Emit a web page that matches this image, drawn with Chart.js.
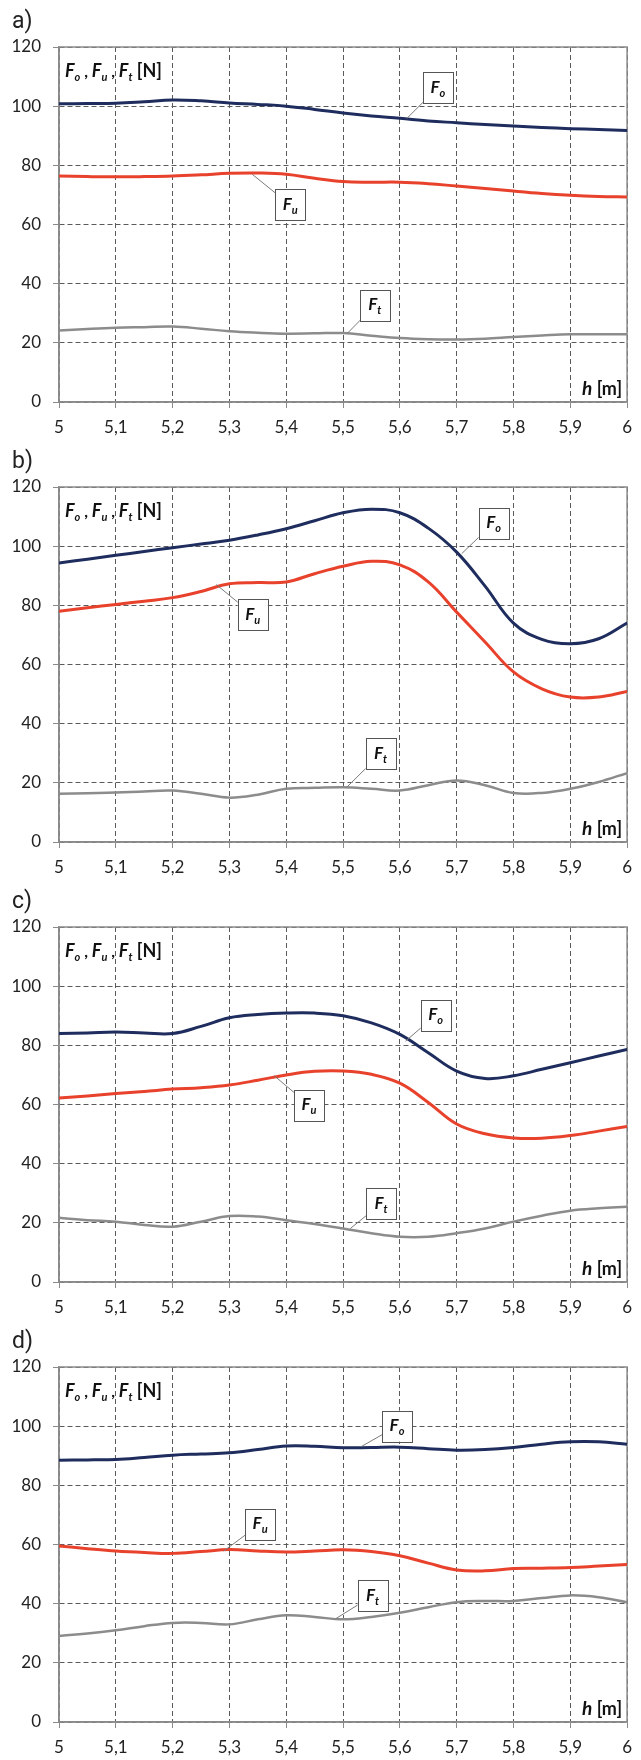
<!DOCTYPE html>
<html>
<head>
<meta charset="utf-8">
<script src="https://cdn.jsdelivr.net/npm/chart.js@4"></script>
<style>
body { margin: 0; background: #fff; }
canvas { display: block; }
</style>
</head>
<body>
<canvas id="chartA" width="641" height="440"></canvas>
<canvas id="chartB" width="641" height="440"></canvas>
<canvas id="chartC" width="641" height="440"></canvas>
<canvas id="chartD" width="641" height="440"></canvas>
<script>
// h [m] sample positions
var hVals = [5, 5.05, 5.1, 5.15, 5.2, 5.25, 5.3, 5.35, 5.4, 5.45, 5.5, 5.55, 5.6, 5.65, 5.7, 5.75, 5.8, 5.85, 5.9, 5.95, 6];
var xTickLabels = ['5', '5,1', '5,2', '5,3', '5,4', '5,5', '5,6', '5,7', '5,8', '5,9', '6'];
var yTickLabels = ['0', '20', '40', '60', '80', '100', '120'];

// a)
var foA = [100.8, 100.9, 101, 101.5, 102.1, 101.8, 101.1, 100.6, 100, 98.9, 97.7, 96.7, 95.9, 95, 94.4, 93.8, 93.3, 92.8, 92.4, 92.1, 91.8];
var fuA = [76.4, 76.2, 76.1, 76.2, 76.4, 76.8, 77.3, 77.4, 77, 75.6, 74.5, 74.3, 74.3, 73.8, 73, 72.2, 71.3, 70.5, 69.9, 69.5, 69.3];
var ftA = [24.2, 24.7, 25.1, 25.3, 25.5, 24.8, 23.9, 23.4, 23.1, 23.2, 23.3, 22.4, 21.6, 21.2, 21.1, 21.4, 22, 22.5, 22.9, 22.9, 22.9];
// b)
var foB = [94.3, 95.6, 96.9, 98.2, 99.5, 100.7, 102, 103.8, 105.9, 108.6, 111.3, 112.5, 111.3, 106.1, 98, 86.5, 74, 68.5, 67, 68.7, 74];
var fuB = [78, 79.2, 80.3, 81.4, 82.6, 84.7, 87.3, 87.7, 87.9, 90.7, 93.2, 94.9, 93.7, 87.9, 77.7, 67.6, 57.5, 51.8, 49, 49, 50.9];
var ftB = [16.3, 16.5, 16.7, 17.1, 17.4, 16.3, 15, 16, 18, 18.3, 18.5, 18, 17.4, 19.2, 20.8, 19.2, 16.6, 16.6, 18, 20.3, 23.3];
// c)
var foC = [84, 84.2, 84.5, 84.2, 84, 86.4, 89.3, 90.4, 90.9, 90.9, 90, 87.6, 83.7, 77.5, 71.3, 68.8, 69.7, 71.9, 74.1, 76.4, 78.6];
var fuC = [62.2, 62.9, 63.7, 64.4, 65.2, 65.7, 66.6, 68.2, 70, 71.2, 71.3, 70.2, 67.2, 60.7, 53.4, 50.1, 48.7, 48.6, 49.5, 51, 52.6];
var ftC = [21.7, 20.9, 20.4, 19.3, 18.7, 20.4, 22.3, 22.1, 20.9, 19.6, 18.1, 16.5, 15.3, 15.3, 16.5, 18.1, 20.4, 22.4, 24.1, 24.9, 25.4];
// d)
var foD = [88.5, 88.6, 88.7, 89.4, 90.2, 90.6, 91, 92.1, 93.3, 93.2, 92.7, 92.8, 92.9, 92.4, 91.9, 92.1, 92.8, 93.9, 94.7, 94.7, 93.9];
var fuD = [59.5, 58.6, 57.8, 57.3, 57, 57.6, 58.3, 57.8, 57.5, 57.8, 58.2, 57.6, 56.2, 53.7, 51.4, 51.1, 51.9, 52, 52.2, 52.7, 53.2];
var ftD = [29.1, 29.9, 31, 32.4, 33.5, 33.5, 33, 34.7, 36.1, 35.5, 34.7, 35.5, 36.9, 38.8, 40.5, 40.9, 40.9, 41.9, 42.8, 42.2, 40.5];

// callout boxes: [subscript, box h, box F, leader h, leader F]
var notesA = [['o', 5.667, 106.3, 5.612, 95.8], ['u', 5.407, 66.6, 5.34, 77], ['t', 5.556, 32.7, 5.507, 23.1]];
var notesB = [['o', 5.765, 107.8, 5.709, 97.5], ['u', 5.341, 76.9, 5.277, 87], ['t', 5.566, 29.8, 5.507, 18.6]];
var notesC = [['o', 5.663, 90.2, 5.61, 81.4], ['u', 5.44, 59.8, 5.379, 69.7], ['t', 5.567, 26.5, 5.513, 18.1]];
var notesD = [['o', 5.595, 100, 5.533, 93.2], ['u', 5.354, 66.9, 5.29, 57.8], ['t', 5.552, 42.7, 5.487, 34.9]];

var FONT = 'Lato, "Open Sans", sans-serif';

function pts(arr) {
    return hVals.map(function (h, i) { return { x: h, y: arr[i] }; });
}

// draw a row of text pieces: [text, font, dy]
function richText(ctx, parts, x, y, align) {
    var total = 0;
    parts.forEach(function (p) { ctx.font = p[1]; total += ctx.measureText(p[0]).width; });
    if (align === 'right') x -= total;
    if (align === 'center') x -= total / 2;
    ctx.textAlign = 'left';
    ctx.textBaseline = 'alphabetic';
    parts.forEach(function (p) {
        ctx.font = p[1];
        ctx.fillText(p[0], x, y + (p[2] || 0));
        x += ctx.measureText(p[0]).width;
    });
}

var BI = 'italic bold 18px ' + FONT;
var BIs = 'italic bold 11px ' + FONT;

var decor = {
    id: 'decor',
    beforeDatasetsDraw: function (chart) {
        var a = chart.chartArea, ctx = chart.ctx;
        ctx.save();
        ctx.strokeStyle = '#8a8a8a';
        ctx.lineWidth = 1.5;
        ctx.strokeRect(a.left, a.top, a.right - a.left, a.bottom - a.top);
        ctx.restore();
    },
    afterDatasetsDraw: function (chart, args, opts) {
        var ctx = chart.ctx, a = chart.chartArea;
        var sx = chart.scales.x, sy = chart.scales.y;
        ctx.save();
        ctx.fillStyle = '#111';
        richText(ctx, [
            ['F', BI], ['o', BIs, 4], [' , ', 'bold 16px ' + FONT],
            ['F', BI], ['u', BIs, 4], [' , ', 'bold 16px ' + FONT],
            ['F', BI], ['t', BIs, 4], [' [N]', 'bold 18px ' + FONT]
        ], a.left + 6, a.top + 30);
        richText(ctx, [['h', 'italic bold 19px ' + FONT], [' [m]', 'bold 18px ' + FONT]], a.right - 5, a.bottom - 7, 'right');

        opts.notes.forEach(function (n) {
            var bx = sx.getPixelForValue(n[1]), by = sy.getPixelForValue(n[2]);
            var tx = sx.getPixelForValue(n[3]), ty = sy.getPixelForValue(n[4]);
            ctx.strokeStyle = '#7a7a7a';
            ctx.lineWidth = 1;
            ctx.beginPath();
            ctx.moveTo(bx, by);
            ctx.lineTo(tx, ty);
            ctx.stroke();
            var w = 30, h = 31;
            ctx.fillStyle = '#fff';
            ctx.fillRect(bx - w / 2, by - h / 2, w, h);
            ctx.strokeStyle = '#555';
            ctx.strokeRect(Math.round(bx - w / 2) + 0.5, Math.round(by - h / 2) + 0.5, w, h);
            ctx.fillStyle = '#111';
            richText(ctx, [['F', 'italic bold 17px ' + FONT], [n[0], 'italic bold 11px ' + FONT, 4]], bx, by + 5, 'center');
        });
        ctx.restore();
    },
    afterDraw: function (chart, args, opts) {
        var ctx = chart.ctx;
        ctx.save();
        ctx.fillStyle = '#222';
        ctx.font = '23px "Liberation Sans Narrow", Roboto, sans-serif';
        ctx.textAlign = 'left';
        ctx.textBaseline = 'alphabetic';
        ctx.fillText(opts.label, 12, 28);
        ctx.restore();
    }
};

function makeChart(id, label, fo, fu, ft, notes) {
    new Chart(document.getElementById(id), {
        type: 'line',
        data: {
            datasets: [
                { data: pts(ft), borderColor: '#8c8c8c', borderWidth: 2.5 },
                { data: pts(fu), borderColor: '#e8412c', borderWidth: 3 },
                { data: pts(fo), borderColor: '#1f2d5e', borderWidth: 3 }
            ]
        },
        options: {
            responsive: false,
            animation: false,
            devicePixelRatio: 1,
            layout: { padding: { top: 47, right: 5, left: 0, bottom: 0 } },
            elements: {
                point: { radius: 0 },
                line: { tension: 0.4, fill: false, borderCapStyle: 'round' }
            },
            plugins: {
                legend: { display: false },
                tooltip: { enabled: false },
                decor: { label: label, notes: notes }
            },
            scales: {
                x: {
                    type: 'linear',
                    min: 5,
                    max: 6,
                    afterFit: function (s) { s.height = 38; },
                    ticks: {
                        stepSize: 0.1,
                        autoSkip: false,
                        maxRotation: 0,
                        padding: 9,
                        color: '#222',
                        font: { family: FONT, size: 17 },
                        callback: function (v, i) { return xTickLabels[i]; }
                    },
                    grid: { color: '#5a5a5a', lineWidth: 1, tickLength: 6, tickColor: '#8a8a8a', tickBorderDash: [] },
                    border: { display: true, color: '#8a8a8a', width: 1.5, dash: [5, 3] }
                },
                y: {
                    min: 0,
                    max: 120,
                    afterFit: function (s) { s.width = 59; },
                    ticks: {
                        stepSize: 20,
                        padding: 12,
                        color: '#222',
                        font: { family: FONT, size: 17 },
                        callback: function (v, i) { return yTickLabels[i]; }
                    },
                    grid: { color: '#5a5a5a', lineWidth: 1, tickLength: 6, tickColor: '#8a8a8a', tickBorderDash: [] },
                    border: { display: true, color: '#8a8a8a', width: 1.5, dash: [5, 3] }
                }
            }
        },
        plugins: [decor]
    });
}

makeChart('chartA', 'a)', foA, fuA, ftA, notesA);
makeChart('chartB', 'b)', foB, fuB, ftB, notesB);
makeChart('chartC', 'c)', foC, fuC, ftC, notesC);
makeChart('chartD', 'd)', foD, fuD, ftD, notesD);
</script>
</body>
</html>
